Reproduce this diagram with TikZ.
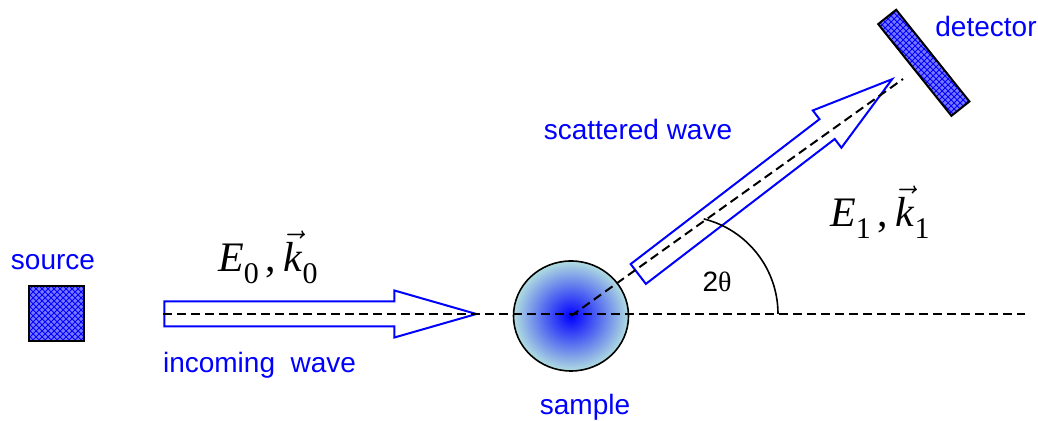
\documentclass[tikz,border=0pt]{standalone}
\usepackage{fontspec}
\setmainfont{Liberation Sans}
\newfontfamily\tnr{Liberation Serif}
\usetikzlibrary{shapes.arrows,shapes.geometric,patterns}
\definecolor{beamBlue}{HTML}{0000FF}
\definecolor{padBlue}{HTML}{7878FF}
\definecolor{sampleCyan}{HTML}{B0DDE0}
\newcommand{\wavelabel}[1]{{\tnr\fontsize{21}{24}\selectfont\textit{E}\raisebox{-0.28em}{\fontsize{15}{15}\selectfont #1}\,,\,$\vec{\hbox{\textit{k}}}$\raisebox{-0.28em}{\fontsize{15}{15}\selectfont #1}}}

\begin{document}
\begin{tikzpicture}[x=0.5pt, y=0.5pt, every node/.style={font=\fontsize{14}{16}\selectfont},
    lbl/.style={text=beamBlue},
    beam/.style={single arrow, draw=beamBlue, line width=1pt, inner xsep=0pt, inner ysep=5.75pt, minimum width=22.5pt, single arrow head extend=5.5pt, single arrow tip angle=32},
    axis/.style={line width=1pt, dash pattern=on 4.5pt off 2.5pt},
    crystal/.style={draw, line width=1pt, inner sep=0pt, preaction={fill=padBlue}, pattern=crosshatch, pattern color=beamBlue}]
  \useasboundingbox (0,0) rectangle (1038,421);
  \node[crystal, minimum size=27.5pt] (source) at (56.5,107) {};
  \node[lbl] (sourcelbl) at (53,159) {source};
  \node[ellipse, draw, line width=0.8pt, minimum width=57.5pt, minimum height=55pt, inner color=beamBlue, outer color=sampleCyan] (sample) at (571,105) {};
  \node[lbl] (samplelbl) at (585,14) {sample};
  \node[crystal, minimum width=58.7pt, minimum height=11.5pt, rotate=-51.4] (detector) at (923.8,358.2) {};
  \node[lbl] (detectorlbl) at (986,394) {detector};
  \node[beam, minimum height=156pt, anchor=tip] (incoming) at (480,107) {};
  \node[beam, minimum height=160pt, anchor=tip, rotate=37.5] (scattered) at (895,344) {};
  \node[lbl, anchor=west] (incominglbl) at (156,56) {incoming~ wave};
  \node[lbl] (scatteredlbl) at (638,291) {scattered wave};
  \node (k0) at (268,164) {\wavelabel{0}};
  \node (k1) at (880,209) {\wavelabel{1}};
  \coordinate (axisL) at (163,107);
  \coordinate (axisR) at (1025,107);
  \coordinate (beamEnd) at (903,342);
  \coordinate (arcTop) at (703.7,202.1);
  \draw[axis] (axisL) -- (axisR);
  \draw[axis] (sample.center) -- (beamEnd);
  \draw[line width=0.8pt] (arcTop) arc[start angle=76, end angle=0, radius=98];
  \node (angle) at (717,139) {2{\tnr θ}};
\end{tikzpicture}
\end{document}
